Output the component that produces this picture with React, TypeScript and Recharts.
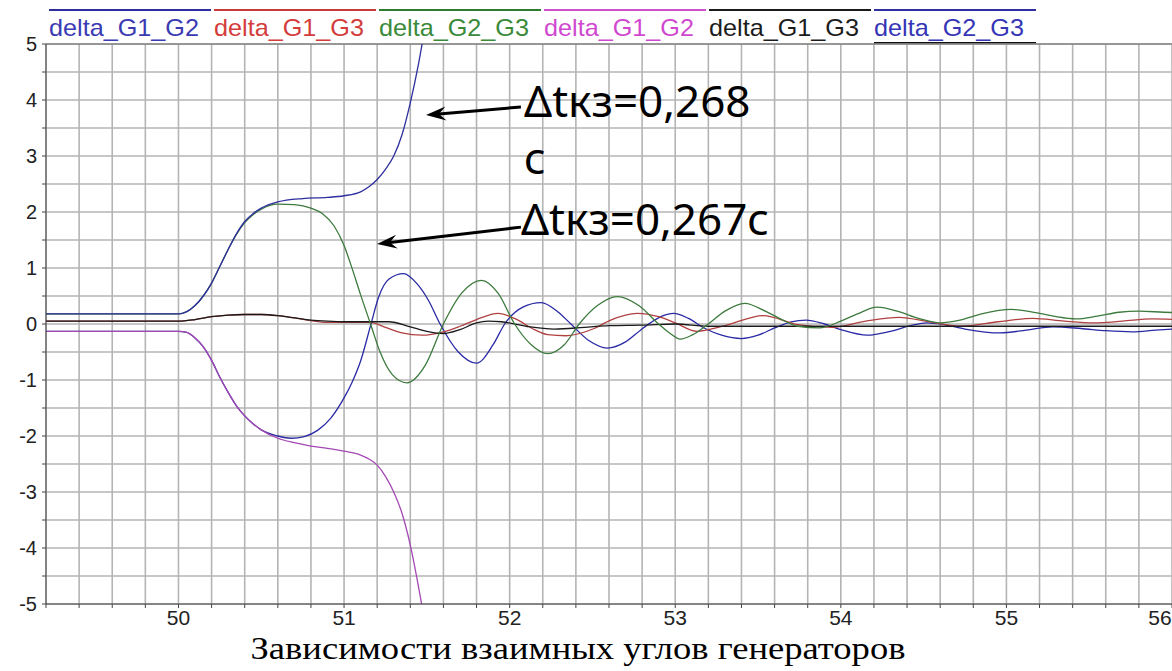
import React from "react"
import { CartesianGrid, Line, LineChart, ReferenceDot, ReferenceLine, XAxis, YAxis } from "recharts"

// time, s  /  angle values
// run with dt = 0,268 s
const g12aT = [49.2, 50.0, 50.05, 50.1, 50.15, 50.2, 50.25, 50.3, 50.35, 50.4, 50.45, 50.5, 50.6, 50.75, 50.9, 51.0, 51.1, 51.15, 51.2, 51.25, 51.3, 51.35, 51.4, 51.45, 51.5, 51.55]
const g12aV = [0.18, 0.18, 0.22, 0.33, 0.5, 0.73, 1.03, 1.33, 1.61, 1.83, 1.97, 2.07, 2.18, 2.24, 2.26, 2.29, 2.36, 2.45, 2.58, 2.76, 3.0, 3.38, 3.95, 4.65, 5.5, 6.4]

const g13aT = [49.2, 50.0, 50.1, 50.2, 50.3, 50.4, 50.5, 50.6, 50.7, 50.8, 50.9, 51.0, 51.16, 51.25, 51.35, 51.47, 51.6, 51.7, 51.8, 51.93, 52.03, 52.15, 52.23, 52.34, 52.51, 52.61, 52.77, 52.9, 53.0, 53.13, 53.3, 53.53, 53.74, 53.95, 54.15, 54.35, 54.55, 54.73, 54.95, 55.16, 55.35, 55.53, 55.7, 55.88, 56.05]
const g13aV = [0.05, 0.05, 0.08, 0.13, 0.16, 0.17, 0.17, 0.15, 0.11, 0.06, 0.03, 0.03, 0.03, -0.06, -0.16, -0.2, -0.14, -0.04, 0.08, 0.19, 0.1, -0.1, -0.19, -0.21, -0.08, 0.07, 0.19, 0.13, 0.02, -0.13, -0.03, 0.15, -0.01, -0.06, 0.05, 0.12, 0.03, -0.04, 0.04, 0.1, 0.05, 0.02, 0.05, 0.09, 0.08]

const g23aT = [49.2, 50.0, 50.05, 50.1, 50.15, 50.2, 50.25, 50.3, 50.35, 50.4, 50.45, 50.5, 50.6, 50.7, 50.8, 50.87, 50.94, 51.0, 51.05, 51.1, 51.16, 51.22, 51.29, 51.38, 51.49, 51.6, 51.71, 51.83, 51.93, 52.03, 52.13, 52.23, 52.33, 52.42, 52.53, 52.65, 52.78, 52.9, 52.97, 53.03, 53.1, 53.2, 53.3, 53.42, 53.55, 53.65, 53.74, 53.87, 54.0, 54.1, 54.22, 54.35, 54.47, 54.6, 54.72, 54.85, 55.03, 55.2, 55.3, 55.42, 55.55, 55.68, 55.8, 55.95, 56.05]
const g23aV = [0.18, 0.18, 0.22, 0.33, 0.5, 0.73, 1.03, 1.33, 1.6, 1.81, 1.95, 2.05, 2.14, 2.13, 2.07, 1.97, 1.75, 1.4, 0.98, 0.52, 0.0, -0.52, -0.9, -1.05, -0.74, 0.0, 0.55, 0.78, 0.55, 0.0, -0.37, -0.53, -0.37, 0.0, 0.33, 0.49, 0.33, 0.0, -0.17, -0.27, -0.2, 0.0, 0.23, 0.37, 0.22, 0.07, -0.04, -0.07, 0.05, 0.18, 0.3, 0.22, 0.1, 0.02, 0.07, 0.18, 0.26, 0.19, 0.13, 0.09, 0.14, 0.21, 0.23, 0.21, 0.2]

// run with dt = 0,267 s
const g12bT = [49.2, 50.0, 50.05, 50.1, 50.15, 50.2, 50.25, 50.3, 50.35, 50.4, 50.45, 50.5, 50.6, 50.7, 50.8, 50.9, 51.0, 51.1, 51.15, 51.2, 51.25, 51.3, 51.35, 51.4, 51.45, 51.5, 51.55]
const g12bV = [-0.13, -0.13, -0.15, -0.25, -0.41, -0.65, -0.95, -1.22, -1.46, -1.64, -1.78, -1.89, -2.04, -2.12, -2.18, -2.22, -2.27, -2.34, -2.41, -2.52, -2.72, -3.0, -3.38, -3.95, -4.7, -5.55, -6.5]

const g13bT = [49.2, 50.0, 50.1, 50.2, 50.3, 50.4, 50.5, 50.6, 50.7, 50.8, 50.9, 51.0, 51.27, 51.4, 51.5, 51.6, 51.7, 51.8, 51.87, 51.95, 52.1, 52.27, 52.45, 52.6, 52.8, 53.0, 53.2, 53.5, 54.0, 54.5, 55.0, 55.5, 56.05]
const g13bV = [0.05, 0.05, 0.08, 0.13, 0.16, 0.17, 0.17, 0.15, 0.11, 0.07, 0.05, 0.04, 0.04, -0.05, -0.13, -0.17, -0.1, 0.02, 0.05, 0.04, -0.04, -0.09, -0.06, -0.03, -0.02, 0.0, -0.04, -0.04, -0.04, -0.04, -0.04, -0.04, -0.04]

const g23bT = [49.2, 50.0, 50.05, 50.1, 50.15, 50.2, 50.25, 50.3, 50.35, 50.4, 50.45, 50.5, 50.6, 50.68, 50.76, 50.84, 50.92, 51.0, 51.05, 51.1, 51.16, 51.21, 51.27, 51.36, 51.44, 51.51, 51.58, 51.69, 51.8, 51.9, 51.97, 52.08, 52.19, 52.29, 52.37, 52.48, 52.59, 52.7, 52.79, 52.85, 52.92, 52.99, 53.08, 53.18, 53.28, 53.4, 53.5, 53.6, 53.7, 53.79, 53.9, 54.0, 54.16, 54.3, 54.42, 54.52, 54.62, 54.75, 54.96, 55.12, 55.28, 55.45, 55.6, 55.76, 55.9, 56.05]
const g23bV = [-0.13, -0.13, -0.15, -0.25, -0.41, -0.65, -0.95, -1.22, -1.46, -1.64, -1.78, -1.89, -2.0, -2.04, -2.01, -1.9, -1.68, -1.32, -1.03, -0.66, -0.03, 0.49, 0.8, 0.9, 0.72, 0.42, 0.0, -0.5, -0.7, -0.37, 0.0, 0.3, 0.38, 0.22, 0.0, -0.3, -0.43, -0.32, -0.11, 0.02, 0.14, 0.19, 0.1, -0.08, -0.2, -0.26, -0.2, -0.07, 0.04, 0.07, 0.0, -0.1, -0.2, -0.13, -0.03, 0.02, -0.01, -0.09, -0.16, -0.11, -0.05, -0.08, -0.12, -0.14, -0.11, -0.08]

const xTicks = Array.from({ length: 35 }, (_, i) => +(49.2 + i * 0.2).toFixed(1))
const yTicks = Array.from({ length: 21 }, (_, i) => -5 + i * 0.5)

const legendItems = [
  { label: "delta_G1_G2", text: "#3a3ab2", line: "#2e2e9e" },
  { label: "delta_G1_G3", text: "#d43c3c", line: "#c83a3a" },
  { label: "delta_G2_G3", text: "#3a8a3a", line: "#2f7a2f" },
  { label: "delta_G1_G2", text: "#d048d0", line: "#d050d0" },
  { label: "delta_G1_G3", text: "#1c1c1c", line: "#1a1a1a" },
  { label: "delta_G2_G3", text: "#3535b5", line: "#3030a0" },
]

const toPoints = (ts: number[], vs: number[]) => ts.map((t, i) => ({ t, v: vs[i] }))

// drawing order: last one ends on top
const series = [
  { key: "g23b", data: toPoints(g23bT, g23bV), color: "#2a2aa5" },
  { key: "g12b", data: toPoints(g12bT, g12bV), color: "#a448b4" },
  { key: "g13a", data: toPoints(g13aT, g13aV), color: "#b04040" },
  { key: "g13b", data: toPoints(g13bT, g13bV), color: "#1a1a1a" },
  { key: "g23a", data: toPoints(g23aT, g23aV), color: "#3d7a3d" },
  { key: "g12a", data: toPoints(g12aT, g12aV), color: "#2e2e9e" },
]

const tickFont = "'Liberation Sans', Arial, sans-serif"

function XTick(props: any) {
  const { x, y, payload } = props
  const v = payload.value
  if (Math.abs(v - Math.round(v)) > 1e-6) return null
  // last label sits on the right edge, pull it in like the original
  const shift = v >= 56 ? -12 : 0
  return (
    <text x={x + shift} y={y} dy={15} textAnchor="middle" fontSize={21} fontFamily={tickFont} fill="#222">
      {Math.round(v)}
    </text>
  )
}

function YTick(props: any) {
  const { x, y, payload } = props
  const v = payload.value
  if (Math.abs(v - Math.round(v)) > 1e-6) return null
  return (
    <text x={x} y={y} dx={-3} dy={7} textAnchor="end" fontSize={20} fontFamily={tickFont} fill="#222">
      {Math.round(v)}
    </text>
  )
}

function Arrow(p: any) {
  const { x1, y1, x2, y2 } = p
  const a = Math.atan2(y2 - y1, x2 - x1)
  const c = Math.cos(a)
  const s = Math.sin(a)
  const len = 20
  const w = 7
  const notch = 13
  const bx = x2 - len * c
  const by = y2 - len * s
  const mx = x2 - notch * c
  const my = y2 - notch * s
  return (
    <g>
      <line x1={x1} y1={y1} x2={mx} y2={my} stroke="#000" strokeWidth={3} />
      <polygon
        points={`${x2},${y2} ${bx - s * w},${by + c * w} ${mx},${my} ${bx + s * w},${by - c * w}`}
        fill="#000"
      />
    </g>
  )
}

const noteFont = "'Noto Sans', 'Open Sans', sans-serif"

const noteText = (value: string) => (p: any) => (
  <text x={p.cx} y={p.cy} fontSize={44} fontFamily={noteFont} fill="#000">
    {value}
  </text>
)

export default function App() {
  return (
    <div style={{ position: "absolute", left: 0, top: 0, width: 1172, height: 671, overflow: "hidden", background: "#fff" }}>
      <div style={{ position: "absolute", left: 49, top: 9, display: "flex", gap: 3 }}>
        {legendItems.map((item, i) => (
          <div
            key={i}
            style={{
              width: 162,
              boxSizing: "border-box",
              borderTop: `2px solid ${item.line}`,
              borderBottom: i === legendItems.length - 1 ? "2px solid #111" : "2px solid transparent",
              paddingTop: 5,
              paddingBottom: 2,
              fontFamily: tickFont,
              fontSize: 24,
              lineHeight: "24px",
              color: item.text,
              whiteSpace: "nowrap",
            }}
          >
            <span style={{ display: "inline-block", transform: "scaleX(1.05)", transformOrigin: "left center" }}>
              {item.label}
            </span>
          </div>
        ))}
      </div>

      <div style={{ position: "absolute", left: 0, top: 0 }}>
        <LineChart width={1172} height={671} margin={{ top: 44, right: 0, left: 0, bottom: 37 }}>
          <CartesianGrid stroke="#b4b4b4" strokeWidth={1.6} />
          <XAxis
            dataKey="t"
            type="number"
            domain={[49.2, 56.0]}
            ticks={xTicks}
            interval={0}
            allowDataOverflow
            height={30}
            tickSize={4}
            tick={<XTick />}
            axisLine={{ stroke: "#444" }}
            tickLine={{ stroke: "#444" }}
          />
          <YAxis
            type="number"
            domain={[-5, 5]}
            ticks={yTicks}
            interval={0}
            allowDataOverflow
            width={46}
            tickSize={4}
            tick={<YTick />}
            axisLine={{ stroke: "#444" }}
            tickLine={{ stroke: "#444" }}
          />
          <ReferenceLine y={5} stroke="#666" strokeWidth={1} />
          {series.map((s) => (
            <Line
              key={s.key}
              data={s.data}
              dataKey="v"
              type="monotone"
              stroke={s.color}
              strokeWidth={1.3}
              dot={false}
              activeDot={false}
              isAnimationActive={false}
            />
          ))}
          <ReferenceLine
            segment={[{ x: 52.068, y: 3.875 }, { x: 51.495, y: 3.73 }]}
            shape={Arrow}
          />
          <ReferenceLine
            segment={[{ x: 52.068, y: 1.73 }, { x: 51.199, y: 1.43 }]}
            shape={Arrow}
          />
          <ReferenceDot x={52.087} y={3.7} r={0} ifOverflow="visible" shape={noteText("Δtкз=0,268")} />
          <ReferenceDot x={52.087} y={2.68} r={0} ifOverflow="visible" shape={noteText("с")} />
          <ReferenceDot x={52.068} y={1.59} r={0} ifOverflow="visible" shape={noteText("Δtкз=0,267с")} />
        </LineChart>
      </div>

      <div
        style={{
          position: "absolute",
          left: 0,
          top: 637,
          width: 1156,
          textAlign: "center",
          fontFamily: "'Liberation Serif', 'Times New Roman', serif",
          fontSize: 31,
          lineHeight: "24px",
          color: "#000",
          transform: "scaleX(1.18)",
          transformOrigin: "578px center",
        }}
      >
        Зависимости взаимных углов генераторов
      </div>
    </div>
  )
}
